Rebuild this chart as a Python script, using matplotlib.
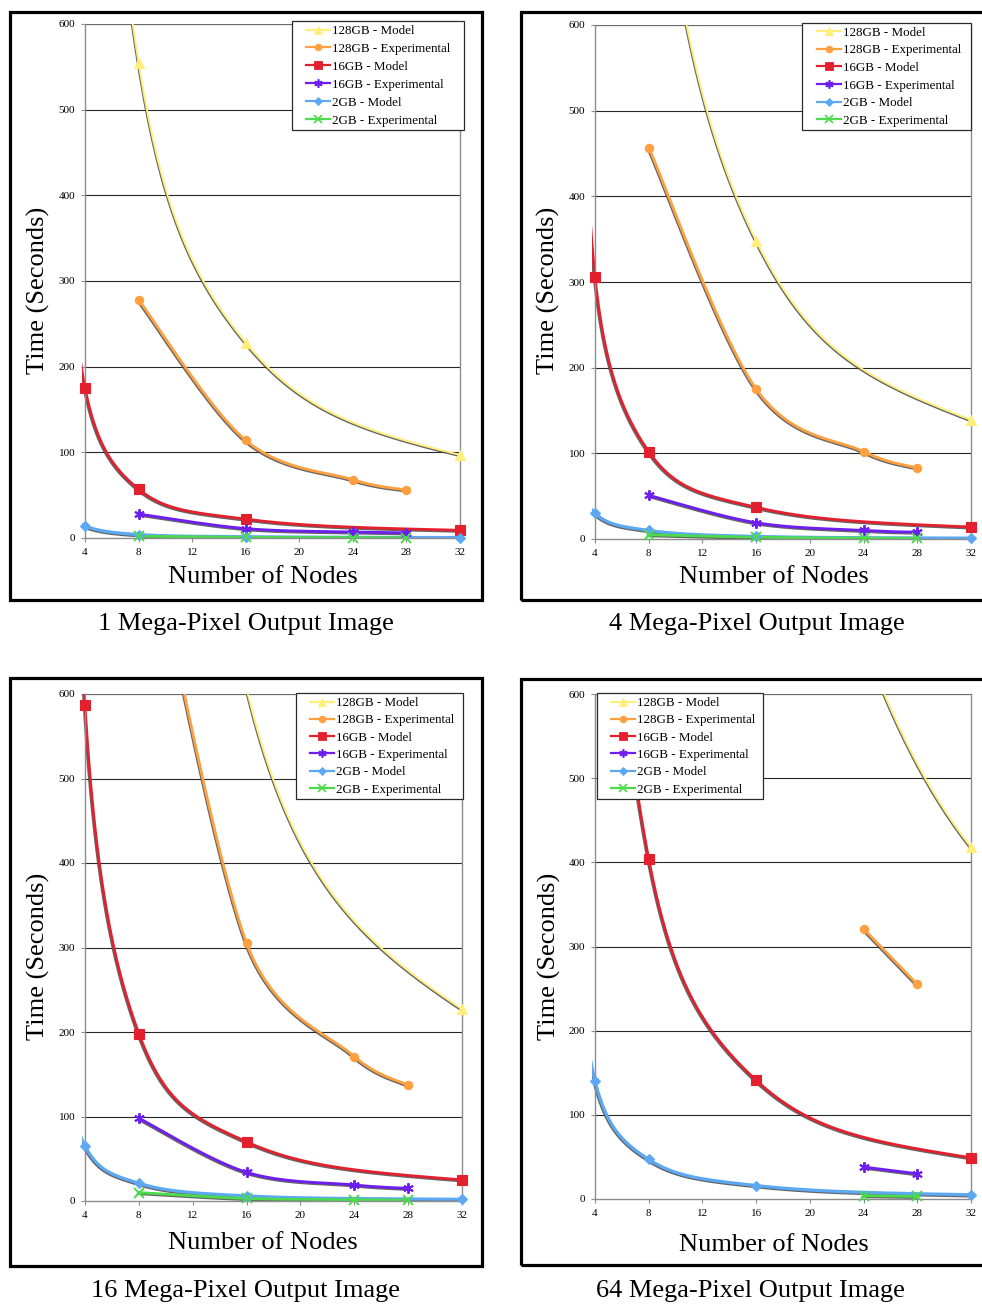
import numpy as np
import matplotlib
matplotlib.use("Agg")
import matplotlib.pyplot as plt
import matplotlib.patheffects as pe
from matplotlib.lines import Line2D
from matplotlib.patches import Rectangle

plt.rcParams["font.family"] = ["Liberation Serif", "DejaVu Serif"]

# node counts; the model curves also carry predictions at 2 and 64 nodes,
# which lie outside the plotted range but shape the smoothed line
NODES_MODEL = [2, 4, 8, 16, 32, 64]
NODES_EXP = [8, 16, 24, 28]

SERIES_NAMES = [
    "128GB - Model",
    "128GB - Experimental",
    "16GB - Model",
    "16GB - Experimental",
    "2GB - Model",
    "2GB - Experimental",
]
PANEL_TITLES = [
    "1 Mega-Pixel Output Image",
    "4 Mega-Pixel Output Image",
    "16 Mega-Pixel Output Image",
    "64 Mega-Pixel Output Image",
]

# 1 mega-pixel
MP1_128_MODEL = [3300, 1400, 555, 228, 97, 45]
MP1_128_EXP = [278, 114, 68, 56]
MP1_16_MODEL = [520, 175, 57, 22, 9, 4]
MP1_16_EXP = [28, 11, 7, 6]
MP1_2_MODEL = [40, 14, 4, 1.5, 0.5, 0.2]
MP1_2_EXP = [2, 0.8, 0.5, 0.4]

# 4 mega-pixel
MP4_128_MODEL = [4500, 2000, 900, 348, 139, 60]
MP4_128_EXP = [457, 175, 102, 83]
MP4_16_MODEL = [1000, 306, 102, 37, 14, 6]
MP4_16_EXP = [51, 19, 10, 8]
MP4_2_MODEL = [95, 30, 10, 3, 1, 0.4]
MP4_2_EXP = [5, 2, 1, 0.8]

# 16 mega-pixel
MP16_128_MODEL = [8000, 4000, 1800, 606, 227, 95]
MP16_128_EXP = [860, 305, 171, 137]
MP16_16_MODEL = [1800, 587, 198, 70, 25, 10]
MP16_16_EXP = [98, 34, 19, 15]
MP16_2_MODEL = [200, 65, 21, 6, 2, 0.8]
MP16_2_EXP = [10, 3, 1.5, 1]

# 64 mega-pixel (experiments only ran on 24 and 28 nodes)
MP64_128_MODEL = [9000, 4500, 2200, 1150, 418, 180]
MP64_128_EXP = [np.nan, np.nan, 321, 255]
MP64_16_MODEL = [2800, 1150, 404, 141, 49, 20]
MP64_16_EXP = [np.nan, np.nan, 38, 30]
MP64_2_MODEL = [420, 140, 47, 16, 5, 2]
MP64_2_EXP = [np.nan, np.nan, 4, 3]

PANEL_DATA = [
    [MP1_128_MODEL, MP1_128_EXP, MP1_16_MODEL, MP1_16_EXP, MP1_2_MODEL, MP1_2_EXP],
    [MP4_128_MODEL, MP4_128_EXP, MP4_16_MODEL, MP4_16_EXP, MP4_2_MODEL, MP4_2_EXP],
    [MP16_128_MODEL, MP16_128_EXP, MP16_16_MODEL, MP16_16_EXP, MP16_2_MODEL, MP16_2_EXP],
    [MP64_128_MODEL, MP64_128_EXP, MP64_16_MODEL, MP64_16_EXP, MP64_2_MODEL, MP64_2_EXP],
]

COLORS = ["#FFEE7A", "#FFA040", "#E2202E", "#6E1EF0", "#5CA8F2", "#4CDB4C"]
MARKERS = ["^", "o", "s", (6, 2, 0), "D", "x"]
MARKER_SIZES = [6.5, 6, 6.5, 7.5, 5, 6.5]
LINE_WIDTHS = [1.4, 2.0, 2.0, 2.0, 2.3, 2.0]

W, H = 982, 1306

# pixel layout of each panel: axes box, outer frame, legend box, first legend
# handle (x of line start, y of first row), row pitch, label centres
LAYOUT = [
    dict(ax=(85, 24, 460, 538), frame=(10, 12, 482, 600),
         legbox=(291.7, 20.7, 463.7, 130), leghandle=(306, 29.7), pitch=17.9,
         ylab=(38, 290), xlab=(263, 577), title=(245.5, 624)),
    dict(ax=(595, 25, 971, 539), frame=(521, 12, 1000, 600),
         legbox=(802.3, 22.7, 971, 130), leghandle=(816.7, 31.3), pitch=17.6,
         ylab=(548, 290), xlab=(774, 577), title=(756.5, 624)),
    dict(ax=(85, 694, 462, 1201), frame=(10, 678, 482, 1266),
         legbox=(296.3, 693.3, 462.7, 799), leghandle=(310, 701.7), pitch=17.3,
         ylab=(38, 956), xlab=(263, 1243), title=(246, 1291)),
    dict(ax=(595, 694, 971, 1199), frame=(521, 679, 1000, 1265),
         legbox=(596.7, 693.3, 762.7, 799), leghandle=(610.7, 701.7), pitch=17.3,
         ylab=(549, 956), xlab=(774, 1245), title=(750, 1291)),
]

LEGEND_SIZE = 9.4


def smooth_curve(ax, xs, ys, n=80):
    """Bezier smoothing in screen space, control arms capped at half a segment."""
    pts = ax.transData.transform(np.column_stack([xs, ys]))
    parts = []
    t = np.linspace(0, 1, n)[:, None]
    for i in range(len(pts) - 1):
        p0 = pts[i - 1] if i > 0 else pts[i]
        p1, p2 = pts[i], pts[i + 1]
        p3 = pts[i + 2] if i + 2 < len(pts) else pts[i + 1]
        half = np.hypot(*(p2 - p1)) / 2
        arm1 = (p2 - p0) / 6
        arm2 = (p3 - p1) / 6
        arm1 = arm1 * min(1.0, half / max(np.hypot(*arm1), 1e-9))
        arm2 = arm2 * min(1.0, half / max(np.hypot(*arm2), 1e-9))
        b1, b2 = p1 + arm1, p2 - arm2
        seg = (1 - t) ** 3 * p1 + 3 * t * (1 - t) ** 2 * b1 + 3 * t ** 2 * (1 - t) * b2 + t ** 3 * p2
        parts.append(seg if i == 0 else seg[1:])
    curve = ax.transData.inverted().transform(np.vstack(parts))
    return curve[:, 0], curve[:, 1]


def fig_rect(left, top, right, bottom, **kwargs):
    return Rectangle((left / W, 1 - bottom / H), (right - left) / W, (bottom - top) / H,
                     transform=plt.gcf().transFigure, **kwargs)


fig = plt.figure(figsize=(W / 100, H / 100), dpi=100)
fig.patch.set_facecolor("white")

shadow = [pe.SimpleLineShadow(offset=(-0.6, -0.8), shadow_color="#4a4a4a", alpha=0.85), pe.Normal()]

for panel, layout, title in zip(PANEL_DATA, LAYOUT, PANEL_TITLES):
    fig.patches.append(fig_rect(*layout["frame"], fill=False, edgecolor="black", linewidth=2.3))

    al, at, ar, ab = layout["ax"]
    ax = fig.add_axes([al / W, 1 - ab / H, (ar - al) / W, (ab - at) / H])
    ax.set_xlim(4, 32)
    ax.set_ylim(0, 600)
    ax.set_xticks(range(4, 33, 4))
    ax.set_yticks(range(0, 601, 100))
    ax.set_facecolor("white")
    for level in range(100, 600, 100):
        ax.axhline(level, color="#262626", lw=0.8, zorder=0.5)
    ax.axhline(600, color="#6a6a6a", lw=0.9, zorder=0.5)
    ax.spines["top"].set_visible(False)
    for side in ("left", "right", "bottom"):
        ax.spines[side].set_color("#8c8c8c")
        ax.spines[side].set_linewidth(1.0)
    ax.tick_params(direction="out", length=3, width=0.8, color="#8c8c8c",
                   labelsize=8, pad=4)

    # lines may spill a few pixels past the left edge of the plot area
    spill = 3.5 / (ar - al)
    clip = Rectangle((-spill, 0), 1 + spill, 1, transform=ax.transAxes, visible=False)
    ax.add_patch(clip)

    for k, values in enumerate(panel):
        xs = NODES_MODEL if k % 2 == 0 else NODES_EXP
        xv = np.array(xs, dtype=float)
        yv = np.array(values, dtype=float)
        keep = ~np.isnan(yv)
        xv, yv = xv[keep], yv[keep]
        cx, cy = smooth_curve(ax, xv, yv)
        line, = ax.plot(cx, cy, color=COLORS[k], lw=LINE_WIDTHS[k], solid_capstyle="round",
                        path_effects=shadow, zorder=2 + k * 0.1)
        line.set_clip_path(clip)
        vis = (xv >= 4) & (xv <= 32) & (yv <= 600)
        ax.plot(xv[vis], yv[vis], linestyle="none", marker=MARKERS[k],
                markersize=MARKER_SIZES[k], color=COLORS[k], markeredgecolor=COLORS[k],
                markeredgewidth=1.4 if k in (3, 5) else 0.8, clip_on=False,
                zorder=3 + k * 0.1)

    # legend: white box drawn separately, entries laid out without a frame
    box = fig_rect(*layout["legbox"], facecolor="white", edgecolor="#2a2a2a",
                   linewidth=0.9, clip_on=False, zorder=9)
    ax.add_artist(box)
    handles = [Line2D([], [], color=c, lw=1.6, marker=m, markersize=ms * 0.8,
                      markeredgecolor=c, markeredgewidth=1.2 if i in (3, 5) else 0.6)
               for i, (c, m, ms) in enumerate(zip(COLORS, MARKERS, MARKER_SIZES))]
    hx, hy = layout["leghandle"]
    fs_px = LEGEND_SIZE * 100 / 72
    text_h = 0.93 * fs_px
    leg = ax.legend(handles, SERIES_NAMES, loc="upper left",
                    bbox_to_anchor=(hx / W, 1 - (hy - text_h / 2 + 1.4) / H),
                    bbox_transform=fig.transFigure, fontsize=LEGEND_SIZE,
                    frameon=False, borderaxespad=0, borderpad=0,
                    handlelength=24 / fs_px, handletextpad=0.15,
                    labelspacing=(layout["pitch"] - text_h) / fs_px)
    leg.set_zorder(10)

    x, y = layout["ylab"]
    fig.text(x / W, 1 - y / H, "Time (Seconds)", rotation=90, ha="center", va="center", fontsize=19)
    x, y = layout["xlab"]
    fig.text(x / W, 1 - y / H, "Number of Nodes", ha="center", va="center", fontsize=19)
    x, y = layout["title"]
    fig.text(x / W, 1 - y / H, title, ha="center", va="center", fontsize=19)

fig.savefig("out.png", dpi=100, facecolor="white")
